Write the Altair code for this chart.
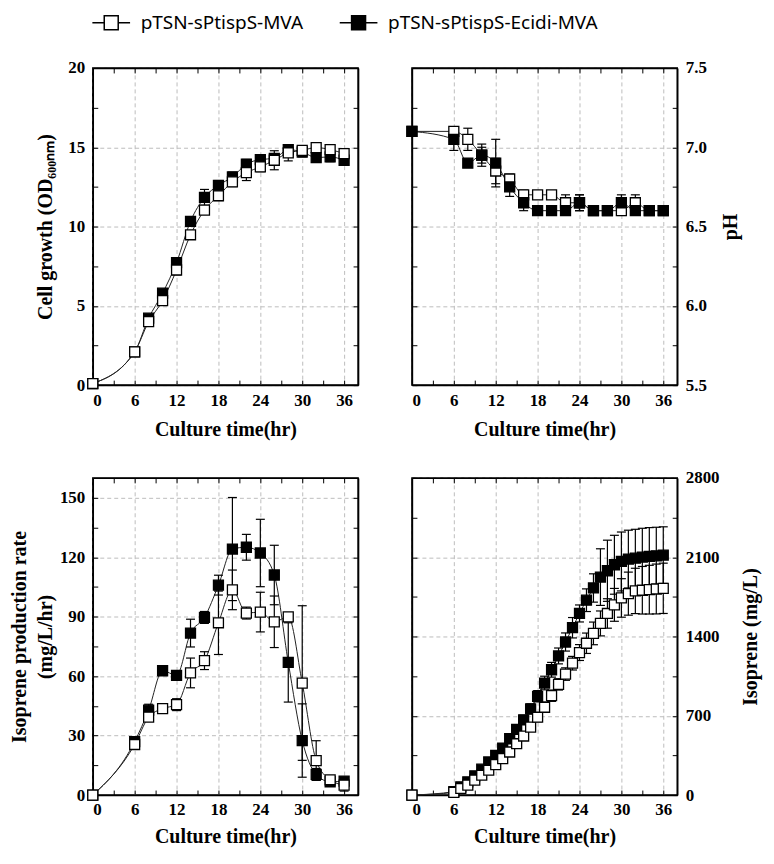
import altair as alt
import pandas as pd

S1 = "pTSN-sPtispS-MVA"
S2 = "pTSN-sPtispS-Ecidi-MVA"

# ---- time points (hr) ----
t_main = [0, 6, 8, 10, 12, 14, 16, 18, 20, 22, 24, 26, 28, 30, 32, 34, 36]
t_iso = [0, 6, 7, 8, 9, 10, 11, 12, 13, 14, 15, 16, 17, 18, 19, 20, 21,
         22, 23, 24, 25, 26, 27, 28, 29, 30, 31, 32, 33, 34, 35, 36]

# ---- Cell growth (OD600) ----
od_mva = [0.1, 2.1, 4.0, 5.33, 7.26, 9.48, 11.04, 11.94, 12.82, 13.4, 13.76,
          14.18, 14.64, 14.8, 14.98, 14.85, 14.6]
od_mva_err = [0.05, 0.1, 0.2, 0.3, 0.3, 0.2, 0.2, 0.3, 0.3, 0.5, 0.3, 0.6,
              0.5, 0.3, 0.3, 0.3, 0.3]
od_ecidi = [0.1, 2.1, 4.22, 5.8, 7.73, 10.33, 11.84, 12.6, 13.13, 13.93,
            14.22, 14.3, 14.85, 14.7, 14.35, 14.39, 14.18]
od_ecidi_err = [0.05, 0.1, 0.2, 0.2, 0.2, 0.2, 0.5, 0.3, 0.3, 0.3, 0.3, 0.3,
                0.3, 0.3, 0.3, 0.3, 0.2]

# ---- pH ----
ph_mva = [7.1, 7.1, 7.05, 6.95, 6.85, 6.8, 6.7, 6.7, 6.7, 6.65, 6.65, 6.6,
          6.6, 6.6, 6.65, 6.6, 6.6]
ph_mva_err = [0, 0.03, 0.07, 0.05, 0.08, 0.03, 0.03, 0, 0, 0.05, 0.05, 0, 0,
              0.03, 0.05, 0, 0]
ph_ecidi = [7.1, 7.05, 6.9, 6.95, 6.9, 6.75, 6.65, 6.6, 6.6, 6.6, 6.65, 6.6,
            6.6, 6.65, 6.6, 6.6, 6.6]
ph_ecidi_err = [0, 0.07, 0, 0.07, 0.15, 0.06, 0.05, 0, 0, 0, 0.05, 0, 0,
                0.05, 0, 0, 0]

# ---- Isoprene production rate (mg/L/hr) ----
rate_mva = [0, 25.5, 39.3, 43.6, 45.6, 61.6, 67.8, 86.9, 103.5, 91.8, 92.3,
            87.4, 89.9, 56.5, 17.4, 7.7, 5.0]
rate_mva_err = [0, 2, 2, 1, 3, 7.5, 4.5, 16, 10, 3, 10, 13, 2, 39, 10, 2, 3]
rate_ecidi = [0, 27, 42.8, 62.7, 60.4, 81.7, 89.6, 105.9, 124.1, 125.0,
              122.1, 111.0, 66.9, 27.5, 10.4, 6.7, 7.0]
rate_ecidi_err = [0, 2, 3, 1, 2, 7, 3, 5, 26, 6.5, 17, 15, 20, 18.5, 3, 2, 2]

# ---- Isoprene (mg/L) ----
iso_mva = [0, 23, 58, 88, 132, 175, 219, 269, 322, 380, 453, 521, 600, 687,
           775, 877, 977, 1068, 1164, 1258, 1340, 1427, 1515, 1603, 1679,
           1740, 1778, 1802, 1808, 1813, 1819, 1825]
iso_mva_err = [0, 10, 10, 15, 15, 20, 20, 25, 25, 30, 30, 35, 35, 40, 45, 50,
               50, 55, 60, 70, 90, 100, 110, 130, 145, 170, 190, 200, 210,
               215, 220, 222]
iso_ecidi = [0, 30, 73, 117, 170, 228, 292, 351, 415, 497, 579, 664, 760,
             872, 989, 1106, 1228, 1351, 1477, 1603, 1720, 1828, 1924, 1980,
             2033, 2062, 2083, 2091, 2100, 2106, 2112, 2118]
iso_ecidi_err = [0, 10, 10, 15, 15, 20, 20, 25, 25, 30, 35, 40, 45, 50, 60,
                 65, 70, 80, 90, 75, 100, 125, 250, 270, 260, 260, 255, 255,
                 255, 255, 252, 250]

# ---- axis tick values ----
x_ticks = [0, 3, 6, 9, 12, 15, 18, 21, 24, 27, 30, 33, 36]
od_ticks = [0, 2.5, 5, 7.5, 10, 12.5, 15, 17.5, 20]
ph_ticks = [5.5, 5.75, 6.0, 6.25, 6.5, 6.75, 7.0, 7.25, 7.5]
rate_ticks = [0, 15, 30, 45, 60, 75, 90, 105, 120, 135, 150]
iso_ticks = [0, 350, 700, 1050, 1400, 1750, 2100, 2450, 2800]


def frame(t, a, ea, b, eb, white_on_top=True):
    d1 = pd.DataFrame({"t": t, "v": a, "e": ea, "s": S1})
    d2 = pd.DataFrame({"t": t, "v": b, "e": eb, "s": S2})
    df = pd.concat([d2, d1] if white_on_top else [d1, d2], ignore_index=True)
    df["lo"] = df["v"] - df["e"]
    df["hi"] = df["v"] + df["e"]
    return df


SERIF = "Liberation Serif"
TICK = {"expr": "-5"}


def cond(test):
    return {"condition": {"test": test, "value": 1}, "value": 0}


def panel(df, ydom, yvals, ytest, ylabel_expr, ytitle, yorient,
          xlabel_pad, xtitle_pad, ytitle_pad):
    xs = alt.Scale(domain=[0, 38], nice=False, zero=False)
    ys = alt.Scale(domain=ydom, nice=False, zero=False)
    xtest = "datum.value % 6 === 0"
    x_main = alt.Axis(values=x_ticks, orient="bottom", title="Culture time(hr)",
                      labelExpr=f"{xtest} ? datum.label : ''",
                      grid=True, gridOpacity=cond(xtest), tickSize=TICK,
                      labelPadding=xlabel_pad, titlePadding=xtitle_pad)
    yextra = {"titleBaseline": "top"} if yorient == "right" else {}
    y_main = alt.Axis(values=yvals, orient=yorient, title=ytitle,
                      labelExpr=ylabel_expr, grid=True, gridOpacity=cond(ytest),
                      tickSize=TICK, labelPadding=13, titlePadding=ytitle_pad,
                      titleAngle=270, **yextra)
    x_mir = alt.Axis(values=x_ticks, orient="top", labels=False, grid=False,
                     title=None, tickSize=TICK)
    y_mir = alt.Axis(values=yvals, orient="left" if yorient == "right" else "right",
                     labels=False, grid=False, title=None, tickSize=TICK)
    base = alt.Chart(df)
    X = alt.X("t:Q", scale=xs, axis=None)
    Y = alt.Y("v:Q", scale=ys, axis=None)
    axes = base.mark_point(opacity=0).encode(
        x=alt.X("t:Q", scale=xs, axis=x_main),
        y=alt.Y("v:Q", scale=ys, axis=y_main))
    mirror = base.mark_point(opacity=0).encode(
        x=alt.X("t:Q", scale=xs, axis=x_mir),
        y=alt.Y("v:Q", scale=ys, axis=y_mir))
    line = base.mark_line(interpolate="monotone", color="#222",
                          strokeWidth=1).encode(X, Y, detail="s:N")
    errd = base.transform_filter("datum.e > 0")
    rule = errd.mark_rule(color="black", strokeWidth=1.2).encode(
        X, y=alt.Y("lo:Q", scale=ys, axis=None), y2="hi:Q")
    cap_lo = errd.mark_tick(orient="horizontal", size=9, thickness=1.2,
                            color="black", opacity=1).encode(
        X, y=alt.Y("lo:Q", scale=ys, axis=None))
    cap_hi = errd.mark_tick(orient="horizontal", size=9, thickness=1.2,
                            color="black", opacity=1).encode(
        X, y=alt.Y("hi:Q", scale=ys, axis=None))
    pts = base.mark_square(size=100, stroke="black", strokeWidth=1.3,
                           opacity=1).encode(
        X, Y,
        fill=alt.Fill("s:N", scale=alt.Scale(domain=[S1, S2],
                                             range=["white", "black"]),
                      legend=alt.Legend(title=None), sort=[S1, S2]))
    return alt.layer(axes, mirror, line, rule, cap_lo, cap_hi, pts).resolve_axis(
        x="independent", y="independent").properties(width=266, height=318)


tl = panel(frame(t_main, od_mva, od_mva_err, od_ecidi, od_ecidi_err, True),
           [0, 20], od_ticks, "datum.value % 5 === 0",
           "datum.value % 5 === 0 ? datum.label : ''",
           "Cell growth (OD\u2086\u2080\u2080\u2099\u2098)", "left", 12, 12, 12)
ph_test = "abs(datum.value * 2 - round(datum.value * 2)) < 0.001"
tr = panel(frame(t_main, ph_mva, ph_mva_err, ph_ecidi, ph_ecidi_err, False),
           [5.5, 7.5], ph_ticks, ph_test,
           f"{ph_test} ? format(datum.value, '.1f') : ''",
           "pH", "right", 12, 12, 14)
bl = panel(frame(t_main, rate_mva, rate_mva_err, rate_ecidi, rate_ecidi_err, True),
           [0, 160], rate_ticks, "datum.value % 30 === 0",
           "datum.value % 30 === 0 ? datum.label : ''",
           ["Isoprene production rate", "(mg/L/hr)"], "left", 12, 9, 4)
br = panel(frame(t_iso, iso_mva, iso_mva_err, iso_ecidi, iso_ecidi_err, True),
           [0, 2800], iso_ticks, "datum.value % 700 === 0",
           "datum.value % 700 === 0 ? format(datum.value, 'd') : ''",
           "Isoprene (mg/L)", "right", 12, 9, 21)

LEG_SYM = "M-2.7,0H-1M1,0H2.7M-1,-1H1V1H-1Z"

chart = alt.concat(tl, tr, bl, br, columns=2,
                   spacing={"row": 93, "column": 54}).properties(
    bounds="flush", padding={"left": 0, "top": 4, "right": 5, "bottom": 5}
).configure_view(stroke="black", strokeWidth=1.5).configure_axis(
    labelFont=SERIF, labelFontWeight="bold", labelFontSize=17,
    labelColor="black", titleFont=SERIF, titleFontWeight="bold",
    titleFontSize=20, titleColor="black", titleLineHeight=26,
    domainColor="black", domainWidth=1.5, tickColor="black", tickWidth=1,
    gridColor="#bdbdbd", gridDash=[4, 3], gridWidth=1
).configure_legend(
    orient="top", direction="horizontal", labelFont="Noto Sans",
    labelFontSize=19, labelColor="black", labelLimit=0, symbolType=LEG_SYM,
    symbolSize=196, symbolStrokeColor="black", symbolStrokeWidth=1.5,
    symbolOffset=9, labelOffset=20, columnPadding=33, offset=25
)

chart.save("out.html", embed_options={"renderer": "svg", "actions": False})
